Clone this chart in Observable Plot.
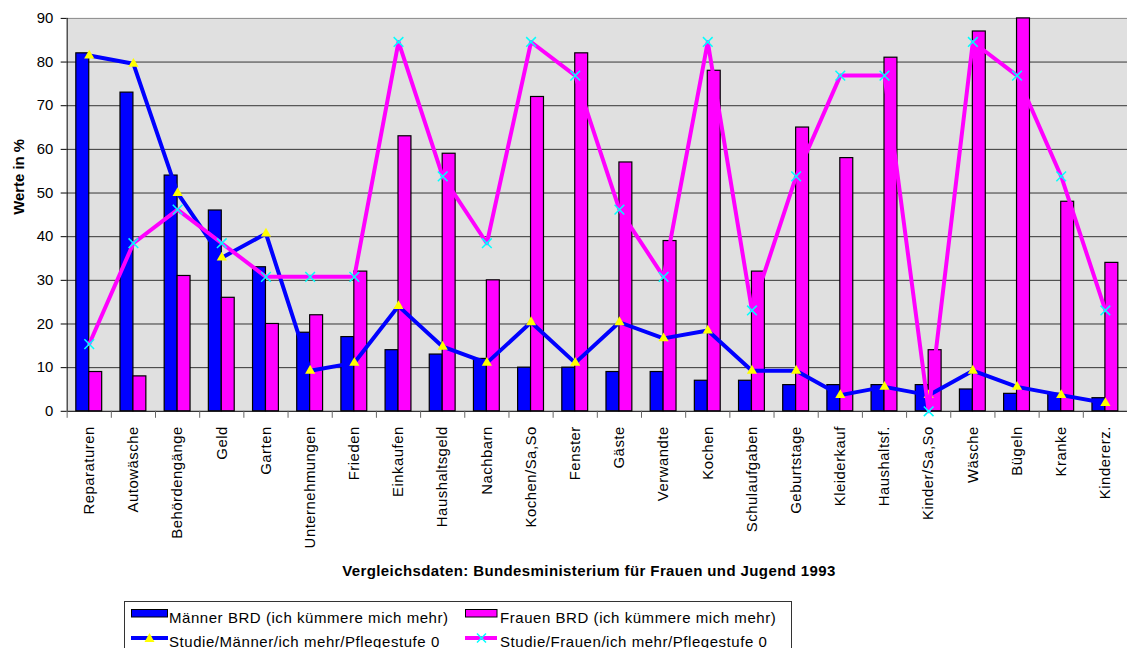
<!DOCTYPE html>
<html>
<head>
<meta charset="utf-8">
<script src="https://cdn.jsdelivr.net/npm/d3@7"></script>
<script src="https://cdn.jsdelivr.net/npm/@observablehq/plot@0.6"></script>
<style>
  html, body { margin: 0; padding: 0; background: #fff; overflow: hidden; }
  #wrap { position: relative; width: 1127px; height: 648px; overflow: hidden; font-family: "Liberation Sans", Arial, sans-serif; }
  #chart { position: absolute; left: 0; top: 0; }
  #caption { position: absolute; left: 0; top: 563px; width: 1178px; text-align: center; font-weight: bold; font-size: 15px; line-height: 15px; letter-spacing: 0.4px; white-space: nowrap; }
  #legend { position: absolute; left: 124px; top: 601px; width: 668px; height: 60px; border: 1px solid #333; box-sizing: border-box; font-size: 15px; line-height: 15px; letter-spacing: 0.55px; white-space: nowrap; }
  #legend .t { position: absolute; }
  #legend svg { position: absolute; overflow: visible; }
  #chart g[aria-label="x-axis tick label"] text, #chart g[aria-label="x-axis"] text { letter-spacing: 0.5px; }
</style>
</head>
<body>
<div id="wrap">
  <div id="chart"></div>
  <div id="caption"></div>
  <div id="legend"></div>
</div>
<script>
// ---- data ----
const categories = ["Reparaturen","Autowäsche","Behördengänge","Geld","Garten","Unternehmungen","Frieden","Einkaufen","Haushaltsgeld","Nachbarn","Kochen/Sa,So","Fenster","Gäste","Verwandte","Kochen","Schulaufgaben","Geburtstage","Kleiderkauf","Haushaltsf.","Kinder/Sa,So","Wäsche","Bügeln","Kranke","Kindererz."];
const maennerBRD = [82,73,54,46,33,18,17,14,13,12,10,10,9,9,7,7,6,6,6,6,5,4,4,3];
const frauenBRD = [9,8,31,26,20,22,32,63,59,30,72,82,57,39,78,32,65,58,81,14,87,90,48,34];
const studieMaenner = [81.5,79.6,50,35.2,40.7,9.3,11.1,24.1,14.8,11.1,20.4,11.1,20.4,16.7,18.5,9.3,9.3,3.7,5.6,3.7,9.3,5.6,3.7,1.9];
const studieFrauen = [15.4,38.5,46.2,38.5,30.8,30.8,30.8,84.6,53.8,38.5,84.6,76.9,46.2,30.8,84.6,23.1,53.8,76.9,76.9,0,84.6,76.9,53.8,23.1];
const yTicks = [0,10,20,30,40,50,60,70,80,90];
const seriesNames = ["Männer BRD (ich kümmere mich mehr)","Frauen BRD (ich kümmere mich mehr)","Studie/Männer/ich mehr/Pflegestufe 0","Studie/Frauen/ich mehr/Pflegestufe 0"];
const yLabel = "Werte in %";
const captionText = "Vergleichsdaten: Bundesministerium für Frauen und Jugend 1993";

const BLUE = "#0000ff", MAGENTA = "#ff00ff", YELLOW = "#ffff00", CYAN = "#00ffff";
const FONT = "'Liberation Sans', Arial, sans-serif";

const W = 1133, ML = 67, MR = 0, MT = 18, MB = 140, H = 553;
const bw = (W - ML - MR) / categories.length;
const barW = 13;

const rows = categories.map((c, i) => ({cat: c, m: maennerBRD[i], f: frauenBRD[i], sm: studieMaenner[i], sf: studieFrauen[i]}));

const chart = Plot.plot({
  width: W, height: H,
  marginLeft: ML, marginRight: MR, marginTop: MT, marginBottom: MB,
  style: {fontFamily: FONT, fontSize: "15px", background: "transparent", color: "#000", overflow: "visible"},
  x: {domain: categories, type: "band", padding: 0, round: false, tickSize: 0, tickPadding: 15, tickRotate: -90, label: null},
  y: {domain: [0, 90], ticks: yTicks, tickSize: 6, tickPadding: 8, label: null},
  marks: [
    Plot.frame({fill: "#e0e0e0", stroke: null}),
    Plot.ruleY(yTicks.filter(v => v > 0 && v < 90), {stroke: "#333", strokeWidth: 1}),
    Plot.ruleY([90], {stroke: "#888", strokeWidth: 1}),
    Plot.barY(rows, {x: "cat", y: "m", fill: BLUE, stroke: "#000", strokeWidth: 1.2, insetLeft: bw / 2 - barW, insetRight: bw / 2}),
    Plot.barY(rows, {x: "cat", y: "f", fill: MAGENTA, stroke: "#000", strokeWidth: 1.2, insetLeft: bw / 2, insetRight: bw / 2 - barW}),
    Plot.ruleY([0], {stroke: "#000", strokeWidth: 1}),
    Plot.ruleX(categories, {x: d => d, y1: 0, y2: -1.6, dx: -bw / 2, stroke: "#666"}),
    Plot.ruleX([categories[0]], {x: d => d, y1: 0, y2: 90, dx: -bw / 2, stroke: "#000"}),
    Plot.line(rows, {x: "cat", y: "sm", stroke: BLUE, strokeWidth: 4}),
    Plot.dot(rows, {x: "cat", y: "sm", symbol: "triangle", r: 3.8, fill: YELLOW, stroke: null}),
    Plot.line(rows, {x: "cat", y: "sf", stroke: MAGENTA, strokeWidth: 4}),
    Plot.dot(rows, {x: "cat", y: "sf", symbol: "times", r: 4.5, stroke: CYAN, strokeWidth: 1.5}),
    Plot.text([yLabel], {text: d => d, frameAnchor: "left", dx: -48, rotate: -90, fontWeight: "bold", fontSize: 15})
  ]
});
document.getElementById("chart").appendChild(chart);

document.getElementById("caption").textContent = captionText;

// ---- legend ----
const legend = document.getElementById("legend");
const ns = "http://www.w3.org/2000/svg";
function addText(txt, left, top) {
  const s = document.createElement("span");
  s.className = "t"; s.textContent = txt;
  s.style.left = left + "px"; s.style.top = top + "px";
  legend.appendChild(s);
}
function addSvg(left, top, w, h, build) {
  const svg = document.createElementNS(ns, "svg");
  svg.setAttribute("width", w); svg.setAttribute("height", h);
  svg.style.left = left + "px"; svg.style.top = top + "px";
  build(svg);
  legend.appendChild(svg);
}
function el(svg, tag, attrs) {
  const e = document.createElementNS(ns, tag);
  for (const k in attrs) e.setAttribute(k, attrs[k]);
  svg.appendChild(e);
}
// row 1: bar swatches
addSvg(6, 7, 38, 9, s => el(s, "rect", {x: 0.5, y: 0.5, width: 36, height: 7.5, fill: BLUE, stroke: "#000"}));
addText(seriesNames[0], 44, 8);
addSvg(340, 7, 34, 9, s => el(s, "rect", {x: 0.5, y: 0.5, width: 31.5, height: 7.5, fill: MAGENTA, stroke: "#000"}));
addText(seriesNames[1], 375, 8);
// row 2: line swatches
addSvg(6, 29, 38, 14, s => {
  el(s, "line", {x1: 0, x2: 37, y1: 7, y2: 7, stroke: BLUE, "stroke-width": 4});
  el(s, "path", {d: "M18.5,2 L23.5,11 L13.5,11 Z", fill: YELLOW});
});
addText(seriesNames[2], 44, 31.5);
addSvg(340, 29, 34, 14, s => {
  el(s, "line", {x1: 0, x2: 32, y1: 7, y2: 7, stroke: MAGENTA, "stroke-width": 4});
  el(s, "path", {d: "M12,2.5 L21,11.5 M21,2.5 L12,11.5", stroke: CYAN, "stroke-width": 1.5});
});
addText(seriesNames[3], 375, 31.5);
</script>
</body>
</html>
